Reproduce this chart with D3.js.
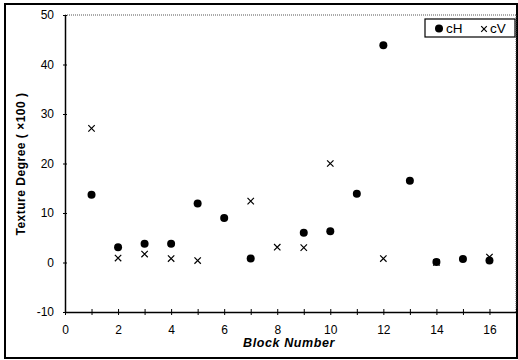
<!DOCTYPE html>
<html><head><meta charset="utf-8">
<script src="https://cdn.jsdelivr.net/npm/d3@7"></script>
<style>body{margin:0;background:#fff}svg{display:block}</style>
</head><body>
<svg id="c" width="518" height="360"></svg>
<script>
const blocksH = [1,2,3,4,5,6,7,9,10,11,12,13,14,15,16];
const cH = [13.7,3.1,3.8,3.8,11.9,9.0,0.8,6.0,6.3,13.9,43.9,16.5,0.1,0.7,0.4];
const blocksV = [1,2,3,4,5,7,8,9,10,12,14,16];
const cV = [27.1,0.9,1.7,0.8,0.4,12.4,3.1,3.0,20.0,0.8,0.0,1.1];
const xTicks = [0,2,4,6,8,10,12,14,16];
const yTicks = [-10,0,10,20,30,40,50];
const legendLabels = ["cH","cV"];

const svg = d3.select("#c");
const L=65, R=516, T=15, B=312;
const x = d3.scaleLinear().domain([0,17]).range([L,R]);
const y = d3.scaleLinear().domain([-10,50]).range([B,T]);
const font = "Liberation Sans, Arial, Helvetica, sans-serif";

// outer frame
svg.append("rect").attr("x",5).attr("y",4).attr("width",512).attr("height",354)
  .attr("fill","none").attr("stroke","#000").attr("stroke-width",2);

// plot area top/right dotted
svg.append("line").attr("x1",L).attr("x2",R).attr("y1",T).attr("y2",T)
  .attr("stroke","#555").attr("stroke-dasharray","1,1");
svg.append("line").attr("x1",R).attr("x2",R).attr("y1",T).attr("y2",B)
  .attr("stroke","#555").attr("stroke-dasharray","1,1");

// x axis
const xAxis = d3.axisBottom(x).tickValues(d3.range(0,18)).tickSize(0)
  .tickFormat(d => xTicks.includes(d) ? String(d) : "");
const gx = svg.append("g").attr("transform",`translate(0,${B})`).call(xAxis);
gx.select(".domain").attr("stroke","#000").attr("stroke-width",1.5);
gx.selectAll(".tick line").remove();
gx.selectAll(".tick").append("line").attr("y1",-3).attr("y2",3).attr("stroke","#000");
gx.selectAll(".tick text").attr("y",13).attr("font-family",font).attr("font-size",12).attr("fill","#000");

// y axis
const yAxis = d3.axisLeft(y).tickValues(yTicks).tickSize(0).tickFormat(d => String(d));
const gy = svg.append("g").attr("transform",`translate(${L},0)`).call(yAxis);
gy.select(".domain").attr("stroke","#000").attr("stroke-width",1.5);
gy.selectAll(".tick line").remove();
gy.selectAll(".tick").append("line").attr("x1",-2).attr("x2",2).attr("stroke","#000");
gy.selectAll(".tick text").attr("x",-11).attr("font-family",font).attr("font-size",12).attr("fill","#000");

// axis titles
svg.append("text").attr("x",289).attr("y",347).attr("text-anchor","middle")
  .attr("font-family",font).attr("font-size",12.5).attr("font-weight","bold").attr("font-style","italic")
  .attr("letter-spacing",0.6)
  .text("Block Number");
svg.append("text").attr("transform","translate(25,164) rotate(-90)").attr("text-anchor","middle")
  .attr("font-family",font).attr("font-size",12).attr("font-weight","bold").attr("letter-spacing",0.5)
  .text("Texture Degree ( ×100 )");

// points
svg.append("g").selectAll("circle").data(blocksH.map((b,i)=>[b,cH[i]])).join("circle")
  .attr("cx",d=>x(d[0])).attr("cy",d=>y(d[1])).attr("r",4).attr("fill","#000");
const s=3.2;
svg.append("g").selectAll("path").data(blocksV.map((b,i)=>[b,cV[i]])).join("path")
  .attr("d",d=>{const cx=x(d[0]),cy=y(d[1]);return `M${cx-s},${cy-s}L${cx+s},${cy+s}M${cx-s},${cy+s}L${cx+s},${cy-s}`;})
  .attr("stroke","#000").attr("stroke-width",1.2).attr("fill","none");

// legend
const lg = svg.append("g");
lg.append("rect").attr("x",425).attr("y",19).attr("width",90).attr("height",18)
  .attr("fill","#fff").attr("stroke","#000").attr("stroke-width",1.2);
lg.append("circle").attr("cx",439).attr("cy",28.5).attr("r",4).attr("fill","#000");
lg.append("text").attr("x",446).attr("y",33).attr("font-family",font).attr("font-size",13.5).text(legendLabels[0]);
const lx=484, ly=29, ls=2.8;
lg.append("path").attr("d",`M${lx-ls},${ly-ls}L${lx+ls},${ly+ls}M${lx-ls},${ly+ls}L${lx+ls},${ly-ls}`)
  .attr("stroke","#000").attr("stroke-width",1.2);
lg.append("text").attr("x",490).attr("y",33).attr("font-family",font).attr("font-size",13.5).text(legendLabels[1]);
</script>
</body></html>
